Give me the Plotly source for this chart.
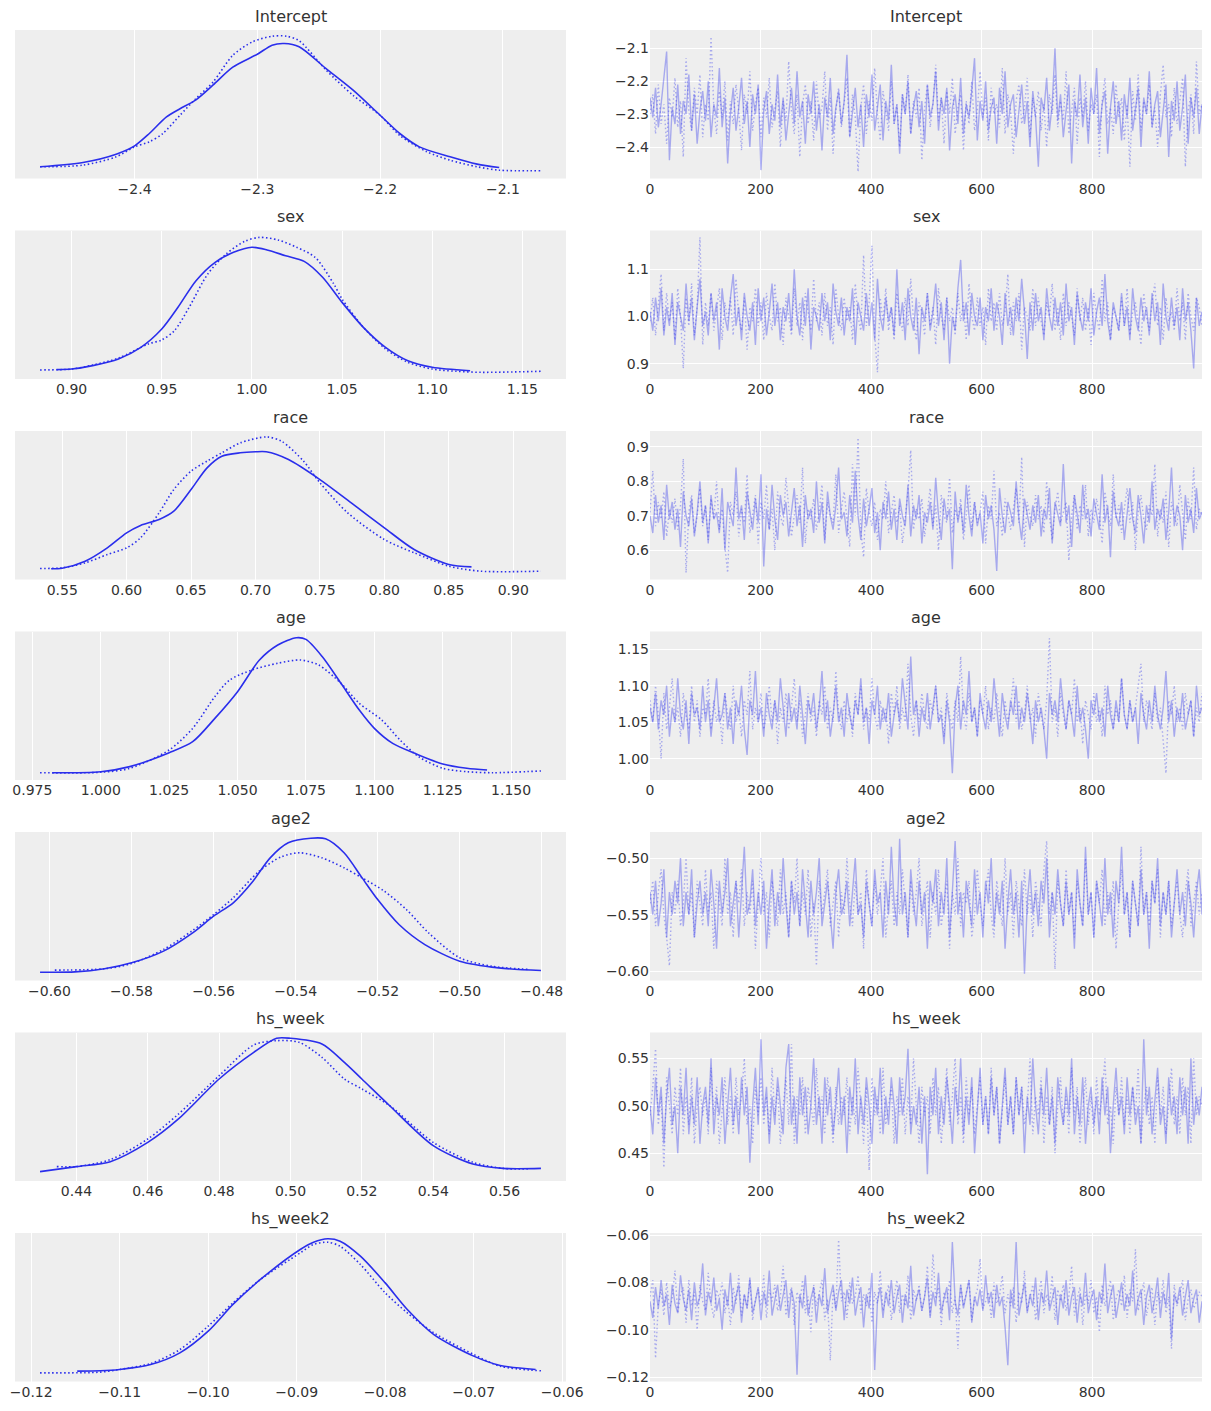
import numpy as np
import plotly.graph_objects as go
from plotly.subplots import make_subplots

VAR_NAMES = ["Intercept", "sex", "race", "age", "age2", "hs_week", "hs_week2"]
N_DRAWS = 1000
TRACE_X_TICK_STEP = 200

# ---------------- KDE curves (left column): x values and relative density ----------------
INTERCEPT_KDE0_X = [-2.477, -2.442, -2.415, -2.400, -2.388, -2.374, -2.363, -2.350, -2.336, -2.320, -2.300,
                    -2.288, -2.278, -2.266, -2.244, -2.222, -2.200, -2.184, -2.168, -2.143, -2.121, -2.103]
INTERCEPT_KDE0_Y = [0.079, 0.108, 0.164, 0.22, 0.303, 0.415, 0.47, 0.53, 0.63, 0.75, 0.837,
                    0.898, 0.909, 0.887, 0.74, 0.595, 0.426, 0.303, 0.213, 0.146, 0.097, 0.074]
INTERCEPT_KDE1_X = [-2.477, -2.442, -2.415, -2.400, -2.388, -2.377, -2.363, -2.350, -2.336, -2.320, -2.304, -2.288,
                    -2.276, -2.266, -2.244, -2.222, -2.200, -2.184, -2.162, -2.143, -2.121, -2.103, -2.069]
INTERCEPT_KDE1_Y = [0.079, 0.09, 0.146, 0.213, 0.247, 0.303, 0.426, 0.539, 0.65, 0.83, 0.92, 0.958,
                    0.958, 0.928, 0.73, 0.56, 0.426, 0.29, 0.18, 0.123, 0.079, 0.056, 0.052]

SEX_KDE0_X = [0.8916, 0.90, 0.9117, 0.926, 0.9384, 0.95, 0.959, 0.969, 0.9796, 0.9898, 1.00,
              1.0084, 1.0187, 1.029, 1.0392, 1.05, 1.0618, 1.0741, 1.0865, 1.10, 1.121]
SEX_KDE0_Y = [0.063, 0.067, 0.09, 0.135, 0.213, 0.337, 0.483, 0.662, 0.786, 0.853, 0.887,
              0.869, 0.83, 0.792, 0.685, 0.516, 0.348, 0.213, 0.123, 0.079, 0.056]
SEX_KDE1_X = [0.8825, 0.90, 0.9117, 0.926, 0.9426, 0.95, 0.957, 0.9652, 0.9755, 0.9857, 0.996, 1.0042,
              1.0145, 1.0248, 1.0351, 1.0454, 1.05, 1.0618, 1.0741, 1.0865, 1.10, 1.1132, 1.1276, 1.1603]
SEX_KDE1_Y = [0.061, 0.067, 0.094, 0.141, 0.236, 0.263, 0.325, 0.483, 0.707, 0.842, 0.927, 0.954,
              0.936, 0.887, 0.819, 0.64, 0.539, 0.348, 0.202, 0.112, 0.067, 0.052, 0.045, 0.052]

RACE_KDE0_X = [0.5414, 0.55, 0.5678, 0.585, 0.60, 0.6108, 0.6252, 0.6366, 0.65, 0.6624, 0.6739,
               0.6882, 0.70, 0.7083, 0.7256, 0.75, 0.7743, 0.80, 0.8231, 0.85, 0.8676]
RACE_KDE0_Y = [0.072, 0.076, 0.123, 0.213, 0.314, 0.364, 0.404, 0.46, 0.606, 0.752, 0.83,
               0.853, 0.86, 0.86, 0.808, 0.673, 0.516, 0.348, 0.202, 0.101, 0.085]
RACE_KDE1_X = [0.5328, 0.55, 0.5678, 0.585, 0.60, 0.6108, 0.6252, 0.6366, 0.65, 0.6624, 0.6739,
               0.6882, 0.7088, 0.7204, 0.7373, 0.75, 0.7715, 0.80, 0.8231, 0.85, 0.8747, 0.9215]
RACE_KDE1_Y = [0.074, 0.079, 0.112, 0.168, 0.213, 0.281, 0.449, 0.606, 0.73, 0.797, 0.853,
               0.92, 0.96, 0.93, 0.797, 0.651, 0.449, 0.269, 0.18, 0.09, 0.056, 0.056]

AGE_KDE0_X = [0.9824, 1.0, 1.0106, 1.025, 1.0336, 1.0417, 1.05, 1.058, 1.0647, 1.0715,
              1.075, 1.081, 1.0878, 1.0945, 1.10, 1.1067, 1.1148, 1.125, 1.1338, 1.1412]
AGE_KDE0_Y = [0.049, 0.056, 0.09, 0.184, 0.258, 0.415, 0.595, 0.808, 0.909, 0.958,
              0.947, 0.83, 0.651, 0.471, 0.348, 0.247, 0.18, 0.108, 0.079, 0.067]
AGE_KDE1_X = [0.9778, 1.0, 1.0106, 1.025, 1.0336, 1.0417, 1.0471, 1.0553, 1.0647, 1.0729,
              1.0796, 1.0878, 1.0945, 1.1027, 1.1094, 1.1162, 1.125, 1.1338, 1.1433, 1.1609]
AGE_KDE1_Y = [0.049, 0.052, 0.079, 0.202, 0.348, 0.561, 0.673, 0.741, 0.786, 0.808,
              0.775, 0.651, 0.516, 0.404, 0.269, 0.157, 0.079, 0.056, 0.049, 0.061]

AGE2_KDE0_X = [-0.6023, -0.5938, -0.5866, -0.58, -0.5722, -0.5651, -0.56, -0.5552, -0.5507, -0.5462, -0.5418,
               -0.5363, -0.5327, -0.5282, -0.5238, -0.52, -0.5148, -0.5085, -0.50, -0.4905, -0.4802]
AGE2_KDE0_Y = [0.056, 0.058, 0.079, 0.119, 0.198, 0.321, 0.433, 0.523, 0.658, 0.826, 0.927,
               0.958, 0.954, 0.86, 0.691, 0.545, 0.377, 0.242, 0.13, 0.085, 0.067]
AGE2_KDE1_X = [-0.5987, -0.5866, -0.58, -0.5722, -0.5651, -0.56, -0.5552, -0.5489, -0.5435, -0.539,
               -0.5336, -0.5282, -0.5238, -0.5184, -0.513, -0.5076, -0.50, -0.4923, -0.4829]
AGE2_KDE1_Y = [0.07, 0.079, 0.114, 0.209, 0.337, 0.444, 0.557, 0.736, 0.833, 0.86,
               0.826, 0.759, 0.691, 0.602, 0.478, 0.321, 0.153, 0.097, 0.074]

HSW_KDE0_X = [0.4298, 0.44, 0.4495, 0.46, 0.4686, 0.48, 0.4897, 0.4961, 0.50, 0.5088,
              0.5151, 0.52, 0.5278, 0.54, 0.5511, 0.5596, 0.5702]
HSW_KDE0_Y = [0.063, 0.097, 0.13, 0.26, 0.418, 0.687, 0.866, 0.961, 0.961, 0.923,
              0.799, 0.687, 0.507, 0.238, 0.114, 0.085, 0.085]
HSW_KDE1_X = [0.4345, 0.44, 0.4495, 0.46, 0.4686, 0.48, 0.4897, 0.4961, 0.5024, 0.5088,
              0.5151, 0.52, 0.5278, 0.54, 0.5511, 0.5596, 0.5665]
HSW_KDE1_Y = [0.097, 0.097, 0.144, 0.283, 0.451, 0.709, 0.916, 0.945, 0.934, 0.833,
              0.687, 0.62, 0.507, 0.26, 0.126, 0.085, 0.081]

HSW2_KDE0_X = [-0.1148, -0.1122, -0.11, -0.1065, -0.1032, -0.10, -0.0972, -0.0941, -0.0896, -0.0881,
               -0.0865, -0.0851, -0.0828, -0.08, -0.0775, -0.0745, -0.07, -0.067, -0.063]
HSW2_KDE0_Y = [0.07, 0.072, 0.081, 0.114, 0.193, 0.339, 0.519, 0.687, 0.889, 0.938,
               0.961, 0.945, 0.844, 0.664, 0.485, 0.316, 0.171, 0.108, 0.081]
HSW2_KDE1_X = [-0.119, -0.1122, -0.11, -0.1065, -0.1032, -0.10, -0.0972, -0.0941, -0.0896, -0.0881,
               -0.0865, -0.0851, -0.0828, -0.08, -0.0775, -0.0745, -0.07, -0.067, -0.0624]
HSW2_KDE1_Y = [0.058, 0.063, 0.081, 0.121, 0.215, 0.373, 0.53, 0.687, 0.866, 0.923,
               0.938, 0.911, 0.788, 0.597, 0.462, 0.328, 0.182, 0.103, 0.072]

# ---------------- sampled traces (right column): chain 0 (solid), chain 1 (dotted) ----------------
INTERCEPT_TRACE0 = [
    -2.25, -2.31, -2.22, -2.34, -2.27, -2.19, -2.11, -2.44, -2.28, -2.33,
    -2.21, -2.36, -2.26, -2.30, -2.18, -2.35, -2.24, -2.39, -2.29, -2.23,
    -2.32, -2.20, -2.37, -2.27, -2.31, -2.16, -2.34, -2.25, -2.45, -2.30,
    -2.22, -2.35, -2.28, -2.19, -2.33, -2.26, -2.40, -2.24, -2.30, -2.21,
    -2.47, -2.29, -2.23, -2.36, -2.27, -2.32, -2.18, -2.34, -2.25, -2.38,
    -2.29, -2.22, -2.33, -2.17, -2.31, -2.26, -2.39, -2.24, -2.30, -2.20,
    -2.35, -2.27, -2.41, -2.25, -2.31, -2.19, -2.36, -2.28, -2.23, -2.33,
    -2.26, -2.12, -2.37, -2.29, -2.22, -2.34, -2.27, -2.40, -2.24, -2.31,
    -2.18, -2.35, -2.28, -2.21, -2.38, -2.26, -2.32, -2.15, -2.33, -2.27,
    -2.42, -2.24, -2.30, -2.20, -2.36, -2.28, -2.23, -2.34, -2.26, -2.39,
    -2.21, -2.31, -2.27, -2.17, -2.35, -2.25, -2.30, -2.22, -2.41, -2.28,
    -2.24, -2.33, -2.19, -2.36, -2.27, -2.31, -2.23, -2.13, -2.38, -2.26,
    -2.32, -2.20, -2.35, -2.28, -2.25, -2.39, -2.22, -2.30, -2.17, -2.34,
    -2.27, -2.24, -2.37, -2.29, -2.21, -2.33, -2.26, -2.40, -2.23, -2.31,
    -2.46, -2.25, -2.29, -2.19, -2.35, -2.27, -2.10, -2.32, -2.24, -2.37,
    -2.28, -2.21, -2.45, -2.26, -2.31, -2.18, -2.34, -2.25, -2.39, -2.22,
    -2.30, -2.16, -2.36, -2.27, -2.23, -2.42, -2.28, -2.20, -2.33, -2.26,
    -2.38, -2.24, -2.31, -2.19, -2.35, -2.28, -2.22, -2.40, -2.25, -2.30,
    -2.17, -2.34, -2.27, -2.23, -2.37, -2.29, -2.21, -2.43, -2.26, -2.32,
    -2.20, -2.35, -2.28, -2.18, -2.39, -2.25, -2.31, -2.22, -2.36, -2.27]
INTERCEPT_TRACE1 = [
    -2.30, -2.24, -2.36, -2.21, -2.33, -2.27, -2.39, -2.25, -2.31, -2.19,
    -2.34, -2.26, -2.43, -2.13, -2.29, -2.35, -2.22, -2.30, -2.18, -2.37,
    -2.27, -2.32, -2.065, -2.28, -2.36, -2.23, -2.31, -2.20, -2.38, -2.26,
    -2.33, -2.21, -2.29, -2.41, -2.24, -2.30, -2.17, -2.35, -2.27, -2.22,
    -2.37, -2.25, -2.31, -2.19, -2.34, -2.28, -2.23, -2.40, -2.26, -2.32,
    -2.14, -2.29, -2.36, -2.24, -2.43, -2.27, -2.21, -2.33, -2.26, -2.38,
    -2.20, -2.31, -2.28, -2.17, -2.35, -2.25, -2.42, -2.29, -2.22, -2.34,
    -2.27, -2.19, -2.37, -2.24, -2.31, -2.475, -2.28, -2.21, -2.36, -2.26,
    -2.32, -2.16, -2.30, -2.38, -2.23, -2.29, -2.35, -2.20, -2.33, -2.27,
    -2.40, -2.24, -2.30, -2.18, -2.36, -2.26, -2.31, -2.22, -2.44, -2.28,
    -2.21, -2.34, -2.27, -2.15, -2.32, -2.25, -2.39, -2.23, -2.30, -2.19,
    -2.36, -2.28, -2.24, -2.41, -2.26, -2.33, -2.20, -2.35, -2.29, -2.17,
    -2.31, -2.25, -2.38, -2.22, -2.30, -2.27, -2.34, -2.16, -2.36, -2.24,
    -2.29, -2.42, -2.26, -2.21, -2.33, -2.28, -2.19, -2.37, -2.25, -2.31,
    -2.23, -2.35, -2.27, -2.40, -2.24, -2.30, -2.18, -2.34, -2.26, -2.32,
    -2.17, -2.36, -2.28, -2.22, -2.39, -2.25, -2.31, -2.20, -2.35, -2.27,
    -2.30, -2.24, -2.43, -2.26, -2.19, -2.33, -2.28, -2.36, -2.21, -2.31,
    -2.25, -2.38, -2.27, -2.46, -2.23, -2.32, -2.18, -2.35, -2.26, -2.30,
    -2.21, -2.34, -2.28, -2.40, -2.24, -2.15, -2.31, -2.27, -2.37, -2.22,
    -2.33, -2.26, -2.19, -2.46, -2.29, -2.24, -2.36, -2.14, -2.30, -2.27]

SEX_TRACE0 = [
    1.01, 0.97, 1.04, 0.99, 1.06, 0.96, 1.02, 0.98, 1.05, 0.94,
    1.03, 1.00, 0.97, 1.07, 0.99, 1.04, 0.95, 1.02, 1.08, 0.98,
    1.01, 0.96, 1.05, 0.99, 1.03, 0.93, 1.06, 1.00, 0.97, 1.04,
    1.09, 0.98, 1.02, 0.95, 1.05, 1.00, 0.97, 1.03, 0.94, 1.06,
    0.99, 1.04, 0.96, 1.01, 1.07, 0.98, 1.03, 0.95, 1.02, 0.99,
    1.05, 0.97, 1.10, 1.00, 0.96, 1.04, 0.98, 1.06, 0.93, 1.02,
    1.00, 0.97, 1.05, 0.99, 1.03, 0.95, 1.07, 1.01, 0.98, 1.04,
    0.96, 1.02, 0.99, 1.06, 0.94, 1.03, 1.00, 0.97, 1.05, 0.98,
    1.03, 0.95, 1.08, 1.00, 0.97, 1.04, 0.99, 1.02, 0.96, 1.10,
    0.98, 1.03, 0.95, 1.06, 1.00, 0.97, 1.04, 0.92, 1.02, 0.99,
    1.05, 0.97, 1.01, 1.07, 0.98, 1.03, 0.95, 1.04, 0.90, 1.00,
    0.97, 1.06, 1.12, 0.99, 1.03, 0.96, 1.05, 1.00, 0.98, 1.04,
    0.95, 1.02, 0.99, 1.06, 0.97, 1.03, 1.00, 0.94, 1.05, 0.98,
    1.02, 0.96, 1.04, 0.99, 1.08, 1.01, 0.91, 1.03, 0.97, 1.05,
    0.99, 1.02, 0.95, 1.06, 1.00, 0.97, 1.04, 0.98, 1.03, 0.96,
    1.07, 0.99, 1.02, 0.94, 1.05, 1.00, 0.97, 1.03, 0.99, 1.06,
    0.96, 1.01, 1.04, 0.98, 1.09, 0.99, 0.95, 1.03, 1.00, 0.97,
    1.05, 0.98, 1.02, 0.95, 1.06, 1.00, 0.97, 1.04, 0.99, 1.02,
    0.96, 1.05, 0.99, 1.03, 0.94, 1.07, 1.00, 0.97, 1.04, 0.98,
    1.02, 0.95, 1.06, 0.99, 1.03, 0.97, 0.89, 1.04, 0.98, 1.01]
SEX_TRACE1 = [
    0.99, 1.04, 0.96, 1.02, 1.09, 0.97, 1.05, 0.99, 1.03, 0.95,
    1.06, 1.00, 0.89, 1.04, 0.98, 1.07, 0.96, 1.02, 1.168, 0.94,
    1.03, 0.98, 1.05, 0.97, 1.01, 1.06, 0.95, 1.03, 0.99, 1.04,
    0.96, 1.08, 1.00, 0.97, 1.04, 0.93, 1.02, 0.99, 1.06, 0.98,
    1.03, 0.95, 1.05, 1.00, 0.97, 1.07, 0.99, 1.02, 0.94, 1.04,
    1.00, 0.96, 1.06, 0.98, 1.03, 0.95, 1.05, 1.01, 0.97, 1.08,
    0.99, 1.03, 0.96, 1.05, 0.98, 1.02, 0.94, 1.06, 1.00, 0.97,
    1.04, 0.99, 1.02, 0.95, 1.07, 1.00, 0.97, 1.13, 0.98, 1.03,
    1.15, 0.96, 0.882, 1.04, 0.99, 1.06, 0.97, 1.02, 0.95, 1.05,
    1.00, 0.97, 1.04, 0.98, 1.08, 0.99, 0.95, 1.03, 1.01, 0.96,
    1.05, 0.98, 1.02, 0.94, 1.06, 1.00, 0.97, 1.04, 0.99, 1.02,
    0.96, 1.05, 0.99, 1.03, 0.95, 1.07, 1.00, 0.97, 1.04, 0.98,
    1.02, 0.94, 1.06, 0.99, 1.03, 0.97, 1.05, 0.98, 1.01, 1.09,
    0.96, 1.03, 0.99, 1.05, 0.93, 1.02, 1.00, 0.97, 1.06, 0.98,
    1.04, 0.99, 0.96, 1.03, 1.00, 1.07, 0.97, 1.02, 0.95, 1.05,
    0.98, 1.03, 1.00, 0.96, 1.06, 0.99, 1.04, 0.97, 1.02, 0.94,
    1.05, 1.00, 0.97, 1.08, 0.99, 1.03, 0.95, 1.02, 1.00, 0.97,
    1.04, 0.98, 1.06, 0.96, 1.01, 1.03, 0.99, 0.94, 1.05, 1.00,
    0.97, 1.03, 1.07, 0.98, 1.02, 0.95, 1.04, 0.99, 1.01, 0.97,
    1.06, 0.99, 1.03, 0.95, 1.05, 1.00, 0.97, 1.04, 1.02, 0.98]

RACE_TRACE0 = [
    0.70, 0.65, 0.76, 0.68, 0.73, 0.63, 0.79, 0.69, 0.74, 0.66,
    0.72, 0.61, 0.77, 0.70, 0.67, 0.75, 0.64, 0.71, 0.80, 0.68,
    0.73, 0.62, 0.76, 0.69, 0.71, 0.65, 0.78, 0.60, 0.74, 0.70,
    0.67, 0.84, 0.69, 0.73, 0.63, 0.77, 0.71, 0.66, 0.75, 0.68,
    0.82, 0.553, 0.72, 0.66, 0.79, 0.69, 0.63, 0.76, 0.70, 0.74,
    0.64, 0.71, 0.78, 0.67, 0.73, 0.61, 0.76, 0.69, 0.72, 0.65,
    0.80, 0.68, 0.74, 0.62, 0.77, 0.70, 0.66, 0.73, 0.84, 0.69,
    0.71, 0.64, 0.76, 0.68, 0.83, 0.70, 0.63, 0.75, 0.67, 0.72,
    0.78, 0.65, 0.71, 0.60, 0.74, 0.69, 0.77, 0.66, 0.72, 0.63,
    0.75, 0.70, 0.67, 0.79, 0.64, 0.73, 0.69, 0.76, 0.62, 0.71,
    0.68, 0.74, 0.66, 0.81, 0.70, 0.63, 0.75, 0.69, 0.72, 0.545,
    0.77, 0.68, 0.73, 0.65, 0.79, 0.70, 0.64, 0.74, 0.67, 0.71,
    0.62, 0.76, 0.69, 0.73, 0.66, 0.54, 0.78, 0.70, 0.65, 0.74,
    0.71, 0.67, 0.80, 0.69, 0.63, 0.75, 0.70, 0.66, 0.73, 0.68,
    0.76, 0.64, 0.72, 0.69, 0.78, 0.62, 0.74, 0.70, 0.67, 0.85,
    0.68, 0.73, 0.61, 0.76, 0.70, 0.65, 0.79, 0.69, 0.72, 0.64,
    0.75, 0.71, 0.66, 0.82, 0.68, 0.73, 0.58, 0.77, 0.70, 0.67,
    0.74, 0.63, 0.71, 0.78, 0.69, 0.65, 0.76, 0.70, 0.62, 0.73,
    0.68, 0.80, 0.66, 0.72, 0.69, 0.75, 0.63, 0.71, 0.84, 0.67,
    0.73, 0.70, 0.60, 0.76, 0.68, 0.72, 0.65, 0.78, 0.69, 0.71]
RACE_TRACE1 = [
    0.71, 0.83, 0.67, 0.74, 0.69, 0.77, 0.64, 0.72, 0.68, 0.75,
    0.66, 0.73, 0.865, 0.535, 0.71, 0.76, 0.65, 0.70, 0.78, 0.67,
    0.73, 0.63, 0.75, 0.69, 0.80, 0.66, 0.72, 0.61, 0.535, 0.74,
    0.70, 0.77, 0.64, 0.72, 0.68, 0.82, 0.65, 0.71, 0.76, 0.62,
    0.74, 0.69, 0.79, 0.66, 0.72, 0.60, 0.77, 0.70, 0.67, 0.81,
    0.73, 0.64, 0.70, 0.76, 0.68, 0.84, 0.62, 0.72, 0.69, 0.75,
    0.66, 0.71, 0.79, 0.63, 0.74, 0.70, 0.68, 0.82, 0.65, 0.72,
    0.77, 0.69, 0.61, 0.85, 0.70, 0.926, 0.66, 0.58, 0.78, 0.71,
    0.67, 0.74, 0.63, 0.72, 0.69, 0.80, 0.65, 0.71, 0.76, 0.68,
    0.73, 0.62, 0.70, 0.77, 0.89, 0.66, 0.72, 0.69, 0.75, 0.64,
    0.71, 0.78, 0.67, 0.73, 0.60, 0.76, 0.70, 0.68, 0.81, 0.65,
    0.72, 0.69, 0.75, 0.63, 0.70, 0.79, 0.66, 0.74, 0.68, 0.71,
    0.77, 0.62, 0.73, 0.69, 0.83, 0.67, 0.71, 0.64, 0.75, 0.70,
    0.66, 0.72, 0.78, 0.68, 0.87, 0.61, 0.74, 0.70, 0.67, 0.76,
    0.69, 0.73, 0.65, 0.80, 0.70, 0.63, 0.72, 0.77, 0.68, 0.71,
    0.74, 0.57, 0.70, 0.76, 0.66, 0.73, 0.69, 0.79, 0.64, 0.72,
    0.68, 0.75, 0.70, 0.62, 0.77, 0.71, 0.67, 0.82, 0.69, 0.73,
    0.65, 0.72, 0.78, 0.68, 0.74, 0.60, 0.71, 0.76, 0.69, 0.66,
    0.73, 0.70, 0.85, 0.64, 0.72, 0.68, 0.77, 0.61, 0.74, 0.70,
    0.67, 0.79, 0.71, 0.63, 0.75, 0.69, 0.84, 0.66, 0.72, 0.70]

AGE_TRACE0 = [
    1.07, 1.05, 1.09, 1.04, 1.08, 1.06, 1.10, 1.03, 1.07, 1.05,
    1.11, 1.06, 1.04, 1.08, 1.02, 1.09, 1.06, 1.07, 1.04, 1.10,
    1.05, 1.08, 1.03, 1.07, 1.11, 1.05, 1.06, 1.09, 1.04, 1.07,
    1.02, 1.08, 1.06, 1.10, 1.04, 1.005, 1.08, 1.06, 1.12, 1.05,
    1.07, 1.03, 1.09, 1.06, 1.04, 1.08, 1.05, 1.11, 1.07, 1.03,
    1.09, 1.05, 1.07, 1.04, 1.10, 1.06, 1.02, 1.08, 1.06, 1.09,
    1.04, 1.07, 1.12, 1.05, 1.08, 1.03, 1.06, 1.10, 1.05, 1.07,
    1.03, 1.09, 1.06, 1.04, 1.08, 1.06, 1.11, 1.05, 1.07, 1.02,
    1.08, 1.06, 1.10, 1.04, 1.07, 1.05, 1.09, 1.03, 1.06, 1.08,
    1.05, 1.11, 1.07, 1.04, 1.14, 1.06, 1.08, 1.03, 1.07, 1.05,
    1.09, 1.04, 1.07, 1.10, 1.05, 1.06, 1.02, 1.08, 1.05, 0.98,
    1.07, 1.10, 1.04, 1.08, 1.06, 1.12, 1.05, 1.07, 1.03, 1.09,
    1.06, 1.04, 1.08, 1.05, 1.11, 1.07, 1.03, 1.09, 1.06, 1.04,
    1.08, 1.06, 1.10, 1.04, 1.07, 1.05, 1.09, 1.06, 1.02, 1.08,
    1.05, 1.07, 1.04, 1.00, 1.09, 1.06, 1.08, 1.05, 1.11, 1.07,
    1.04, 1.08, 1.06, 1.03, 1.10, 1.05, 1.07, 1.04, 1.00, 1.08,
    1.06, 1.09, 1.05, 1.07, 1.03, 1.10, 1.06, 1.04, 1.08, 1.05,
    1.11, 1.06, 1.04, 1.08, 1.05, 1.07, 1.02, 1.09, 1.06, 1.04,
    1.08, 1.05, 1.10, 1.06, 1.04, 1.07, 1.12, 1.05, 1.08, 1.03,
    1.07, 1.05, 1.09, 1.04, 1.06, 1.08, 1.03, 1.10, 1.06, 1.07]
AGE_TRACE1 = [
    1.08, 1.05, 1.10, 1.06, 1.00, 1.09, 1.04, 1.07, 1.11, 1.05,
    1.07, 1.03, 1.09, 1.06, 1.04, 1.10, 1.05, 1.08, 1.03, 1.07,
    1.06, 1.11, 1.04, 1.08, 1.05, 1.07, 1.02, 1.09, 1.06, 1.04,
    1.10, 1.05, 1.07, 1.03, 1.08, 1.06, 1.12, 1.04, 1.07, 1.05,
    1.09, 1.04, 1.06, 1.10, 1.05, 1.08, 1.02, 1.07, 1.05, 1.09,
    1.04, 1.07, 1.11, 1.05, 1.08, 1.03, 1.06, 1.09, 1.05, 1.07,
    1.03, 1.08, 1.06, 1.10, 1.04, 1.07, 1.05, 1.12, 1.06, 1.04,
    1.08, 1.05, 1.07, 1.03, 1.09, 1.06, 1.10, 1.04, 1.07, 1.05,
    1.11, 1.06, 1.04, 1.08, 1.05, 1.07, 1.02, 1.09, 1.06, 1.10,
    1.04, 1.07, 1.05, 1.13, 1.06, 1.03, 1.08, 1.05, 1.09, 1.06,
    1.04, 1.08, 1.06, 1.10, 1.05, 1.07, 1.03, 1.09, 1.06, 1.04,
    1.08, 1.05, 1.14, 1.06, 1.04, 1.09, 1.05, 1.07, 1.03, 1.08,
    1.06, 1.10, 1.04, 1.07, 1.05, 1.09, 1.06, 1.03, 1.08, 1.05,
    1.07, 1.11, 1.05, 1.08, 1.04, 1.06, 1.10, 1.05, 1.07, 1.03,
    1.09, 1.06, 1.04, 1.08, 1.165, 1.05, 1.07, 1.03, 1.09, 1.06,
    1.04, 1.08, 1.06, 1.11, 1.05, 1.07, 1.02, 1.08, 1.06, 1.04,
    1.09, 1.05, 1.07, 1.03, 1.10, 1.06, 1.08, 1.04, 1.07, 1.05,
    1.11, 1.06, 1.04, 1.08, 1.05, 1.07, 1.10, 1.13, 1.05, 1.08,
    1.06, 1.04, 1.09, 1.05, 1.07, 1.03, 0.98, 1.08, 1.06, 1.10,
    1.05, 1.07, 1.04, 1.09, 1.06, 1.08, 1.03, 1.07, 1.05, 1.09]

AGE2_TRACE0 = [
    -0.53, -0.55, -0.52, -0.56, -0.54, -0.51, -0.57, -0.53, -0.55, -0.52,
    -0.54, -0.50, -0.56, -0.53, -0.55, -0.51, -0.57, -0.54, -0.52, -0.55,
    -0.53, -0.56, -0.51, -0.54, -0.58, -0.52, -0.55, -0.53, -0.50, -0.56,
    -0.54, -0.52, -0.57, -0.53, -0.49, -0.55, -0.54, -0.51, -0.56, -0.53,
    -0.55, -0.52, -0.58, -0.54, -0.51, -0.56, -0.53, -0.55, -0.50, -0.54,
    -0.57, -0.52, -0.55, -0.53, -0.56, -0.51, -0.54, -0.57, -0.52, -0.55,
    -0.53, -0.50, -0.56, -0.54, -0.52, -0.55, -0.58, -0.53, -0.51, -0.55,
    -0.54, -0.52, -0.56, -0.53, -0.50, -0.55, -0.54, -0.57, -0.52, -0.54,
    -0.56, -0.51, -0.54, -0.53, -0.57, -0.52, -0.55, -0.49, -0.54, -0.56,
    -0.483, -0.55, -0.53, -0.57, -0.51, -0.54, -0.56, -0.52, -0.55, -0.53,
    -0.58, -0.52, -0.54, -0.51, -0.56, -0.53, -0.55, -0.50, -0.57, -0.53,
    -0.485, -0.55, -0.53, -0.57, -0.52, -0.54, -0.56, -0.51, -0.55, -0.53,
    -0.57, -0.52, -0.54, -0.50, -0.56, -0.53, -0.55, -0.52, -0.58, -0.54,
    -0.51, -0.55, -0.53, -0.57, -0.52, -0.602, -0.54, -0.51, -0.55, -0.53,
    -0.56, -0.52, -0.54, -0.50, -0.57, -0.53, -0.55, -0.51, -0.54, -0.56,
    -0.52, -0.55, -0.53, -0.58, -0.51, -0.54, -0.56, -0.49, -0.55, -0.53,
    -0.57, -0.52, -0.54, -0.56, -0.50, -0.55, -0.53, -0.57, -0.52, -0.54,
    -0.49, -0.55, -0.53, -0.57, -0.52, -0.54, -0.56, -0.51, -0.55, -0.53,
    -0.58, -0.52, -0.54, -0.50, -0.56, -0.53, -0.55, -0.52, -0.57, -0.54,
    -0.51, -0.55, -0.53, -0.56, -0.52, -0.54, -0.57, -0.53, -0.51, -0.55]
AGE2_TRACE1 = [
    -0.54, -0.52, -0.56, -0.53, -0.51, -0.55, -0.57, -0.595, -0.53, -0.55,
    -0.52, -0.56, -0.54, -0.50, -0.55, -0.53, -0.57, -0.52, -0.54, -0.56,
    -0.51, -0.55, -0.53, -0.58, -0.52, -0.54, -0.56, -0.50, -0.55, -0.53,
    -0.57, -0.52, -0.54, -0.51, -0.56, -0.53, -0.55, -0.52, -0.58, -0.54,
    -0.50, -0.55, -0.53, -0.57, -0.52, -0.54, -0.56, -0.51, -0.55, -0.53,
    -0.57, -0.52, -0.54, -0.50, -0.56, -0.53, -0.55, -0.51, -0.57, -0.54,
    -0.595, -0.52, -0.55, -0.53, -0.51, -0.56, -0.54, -0.52, -0.57, -0.53,
    -0.55, -0.50, -0.54, -0.56, -0.52, -0.55, -0.53, -0.58, -0.51, -0.54,
    -0.56, -0.52, -0.55, -0.53, -0.50, -0.57, -0.54, -0.52, -0.56, -0.53,
    -0.55, -0.51, -0.54, -0.57, -0.52, -0.55, -0.53, -0.50, -0.56, -0.54,
    -0.52, -0.57, -0.53, -0.55, -0.51, -0.56, -0.54, -0.52, -0.58, -0.53,
    -0.55, -0.50, -0.56, -0.53, -0.54, -0.52, -0.57, -0.55, -0.51, -0.54,
    -0.56, -0.53, -0.51, -0.55, -0.57, -0.52, -0.54, -0.56, -0.50, -0.55,
    -0.53, -0.57, -0.52, -0.54, -0.56, -0.51, -0.55, -0.53, -0.57, -0.52,
    -0.54, -0.56, -0.51, -0.485, -0.55, -0.53, -0.598, -0.52, -0.54, -0.56,
    -0.51, -0.55, -0.53, -0.57, -0.52, -0.54, -0.56, -0.50, -0.55, -0.53,
    -0.57, -0.52, -0.54, -0.51, -0.56, -0.53, -0.55, -0.52, -0.58, -0.54,
    -0.51, -0.55, -0.53, -0.57, -0.52, -0.54, -0.56, -0.49, -0.55, -0.53,
    -0.56, -0.52, -0.54, -0.51, -0.57, -0.53, -0.55, -0.52, -0.56, -0.54,
    -0.52, -0.55, -0.57, -0.53, -0.51, -0.56, -0.54, -0.52, -0.55, -0.53]

HSW_TRACE0 = [
    0.50, 0.47, 0.53, 0.49, 0.52, 0.46, 0.51, 0.54, 0.48, 0.50,
    0.45, 0.52, 0.49, 0.54, 0.47, 0.51, 0.48, 0.53, 0.46, 0.50,
    0.52, 0.48, 0.55, 0.47, 0.51, 0.49, 0.53, 0.46, 0.50, 0.54,
    0.48, 0.51, 0.47, 0.53, 0.49, 0.52, 0.44, 0.50, 0.54, 0.48,
    0.57, 0.49, 0.52, 0.46, 0.51, 0.48, 0.53, 0.50, 0.47, 0.54,
    0.565, 0.48, 0.51, 0.46, 0.53, 0.49, 0.52, 0.47, 0.50, 0.55,
    0.48, 0.51, 0.46, 0.53, 0.49, 0.52, 0.47, 0.50, 0.54, 0.48,
    0.51, 0.45, 0.52, 0.49, 0.55, 0.47, 0.51, 0.48, 0.53, 0.50,
    0.46, 0.52, 0.49, 0.54, 0.47, 0.51, 0.48, 0.53, 0.50, 0.46,
    0.53, 0.49, 0.51, 0.56, 0.47, 0.50, 0.48, 0.52, 0.46, 0.51,
    0.428, 0.52, 0.49, 0.54, 0.47, 0.51, 0.48, 0.53, 0.50, 0.46,
    0.52, 0.49, 0.55, 0.47, 0.51, 0.48, 0.53, 0.45, 0.50, 0.54,
    0.48, 0.51, 0.47, 0.53, 0.49, 0.52, 0.46, 0.50, 0.54, 0.48,
    0.51, 0.47, 0.53, 0.49, 0.52, 0.45, 0.51, 0.48, 0.55, 0.50,
    0.47, 0.52, 0.49, 0.54, 0.48, 0.51, 0.46, 0.53, 0.50, 0.48,
    0.52, 0.49, 0.55, 0.47, 0.51, 0.48, 0.53, 0.46, 0.50, 0.52,
    0.48, 0.51, 0.47, 0.53, 0.49, 0.52, 0.45, 0.50, 0.54, 0.49,
    0.51, 0.47, 0.53, 0.49, 0.52, 0.48, 0.50, 0.46, 0.57, 0.49,
    0.52, 0.47, 0.51, 0.54, 0.48, 0.50, 0.46, 0.53, 0.49, 0.51,
    0.47, 0.53, 0.49, 0.52, 0.46, 0.55, 0.48, 0.51, 0.49, 0.52]
HSW_TRACE1 = [
    0.49, 0.52, 0.56, 0.48, 0.51, 0.435, 0.53, 0.50, 0.47, 0.52,
    0.49, 0.54, 0.47, 0.51, 0.48, 0.53, 0.46, 0.50, 0.52, 0.49,
    0.51, 0.47, 0.54, 0.49, 0.52, 0.46, 0.50, 0.53, 0.48, 0.51,
    0.47, 0.53, 0.49, 0.51, 0.55, 0.48, 0.50, 0.46, 0.52, 0.49,
    0.53, 0.48, 0.51, 0.47, 0.54, 0.49, 0.52, 0.46, 0.50, 0.53,
    0.48, 0.565, 0.46, 0.51, 0.49, 0.53, 0.47, 0.52, 0.50, 0.48,
    0.54, 0.49, 0.51, 0.47, 0.53, 0.50, 0.46, 0.52, 0.48, 0.51,
    0.49, 0.53, 0.47, 0.51, 0.48, 0.54, 0.50, 0.46, 0.52, 0.432,
    0.53, 0.49, 0.51, 0.47, 0.54, 0.48, 0.50, 0.52, 0.46, 0.51,
    0.49, 0.53, 0.47, 0.51, 0.48, 0.55, 0.50, 0.46, 0.52, 0.49,
    0.51, 0.47, 0.53, 0.49, 0.52, 0.46, 0.50, 0.54, 0.48, 0.51,
    0.55, 0.48, 0.51, 0.46, 0.53, 0.49, 0.52, 0.47, 0.50, 0.53,
    0.48, 0.51, 0.47, 0.54, 0.49, 0.52, 0.46, 0.50, 0.53, 0.48,
    0.51, 0.47, 0.53, 0.49, 0.52, 0.48, 0.50, 0.55, 0.47, 0.51,
    0.49, 0.53, 0.46, 0.51, 0.48, 0.52, 0.45, 0.50, 0.53, 0.48,
    0.51, 0.47, 0.54, 0.49, 0.52, 0.46, 0.50, 0.53, 0.48, 0.51,
    0.47, 0.53, 0.49, 0.51, 0.55, 0.48, 0.50, 0.46, 0.52, 0.49,
    0.53, 0.48, 0.51, 0.47, 0.52, 0.49, 0.54, 0.46, 0.50, 0.52,
    0.48, 0.51, 0.46, 0.53, 0.49, 0.52, 0.47, 0.50, 0.54, 0.48,
    0.51, 0.47, 0.53, 0.49, 0.52, 0.46, 0.55, 0.49, 0.51, 0.50]

HSW2_TRACE0 = [
    -0.088, -0.095, -0.082, -0.091, -0.079, -0.090, -0.085, -0.098, -0.081, -0.089,
    -0.093, -0.077, -0.087, -0.092, -0.083, -0.096, -0.080, -0.090, -0.086, -0.072,
    -0.094, -0.084, -0.089, -0.078, -0.092, -0.087, -0.100, -0.083, -0.090, -0.076,
    -0.093, -0.086, -0.081, -0.097, -0.085, -0.091, -0.078, -0.093, -0.088, -0.082,
    -0.096, -0.084, -0.090, -0.075, -0.094, -0.087, -0.081, -0.092, -0.086, -0.079,
    -0.095, -0.083, -0.089, -0.119, -0.085, -0.091, -0.077, -0.094, -0.087, -0.082,
    -0.097, -0.085, -0.090, -0.074, -0.093, -0.086, -0.081, -0.092, -0.084, -0.079,
    -0.096, -0.083, -0.089, -0.078, -0.094, -0.087, -0.082, -0.099, -0.085, -0.091,
    -0.076, -0.117, -0.088, -0.082, -0.095, -0.084, -0.090, -0.079, -0.093, -0.086,
    -0.081, -0.097, -0.085, -0.091, -0.073, -0.094, -0.087, -0.083, -0.092, -0.086,
    -0.078, -0.095, -0.084, -0.090, -0.076, -0.093, -0.087, -0.082, -0.096, -0.063,
    -0.088, -0.094, -0.081, -0.091, -0.085, -0.079, -0.097, -0.086, -0.090, -0.083,
    -0.092, -0.077, -0.089, -0.084, -0.095, -0.081, -0.090, -0.086, -0.099, -0.115,
    -0.083, -0.091, -0.063, -0.094, -0.087, -0.080, -0.093, -0.085, -0.090, -0.078,
    -0.096, -0.084, -0.089, -0.075, -0.092, -0.087, -0.082, -0.098, -0.085, -0.091,
    -0.079, -0.094, -0.086, -0.082, -0.097, -0.085, -0.090, -0.076, -0.093, -0.087,
    -0.083, -0.096, -0.084, -0.089, -0.072, -0.093, -0.086, -0.081, -0.095, -0.088,
    -0.080, -0.092, -0.085, -0.090, -0.075, -0.094, -0.087, -0.083, -0.098, -0.086,
    -0.081, -0.093, -0.087, -0.078, -0.095, -0.084, -0.090, -0.076, -0.104, -0.085,
    -0.089, -0.082, -0.094, -0.086, -0.079, -0.093, -0.087, -0.083, -0.097, -0.088]
HSW2_TRACE1 = [
    -0.086, -0.079, -0.112, -0.089, -0.083, -0.094, -0.080, -0.091, -0.087, -0.075,
    -0.093, -0.085, -0.082, -0.097, -0.079, -0.090, -0.084, -0.100, -0.081, -0.088,
    -0.092, -0.076, -0.089, -0.095, -0.083, -0.087, -0.080, -0.093, -0.086, -0.098,
    -0.082, -0.089, -0.077, -0.094, -0.085, -0.091, -0.079, -0.096, -0.087, -0.083,
    -0.090, -0.077, -0.095, -0.083, -0.088, -0.081, -0.092, -0.086, -0.073, -0.094,
    -0.087, -0.082, -0.098, -0.084, -0.089, -0.079, -0.093, -0.086, -0.101, -0.081,
    -0.090, -0.085, -0.079, -0.096, -0.087, -0.113, -0.083, -0.091, -0.062, -0.088,
    -0.084, -0.095, -0.080, -0.089, -0.086, -0.077, -0.093, -0.085, -0.090, -0.082,
    -0.097, -0.084, -0.089, -0.075, -0.092, -0.087, -0.081, -0.096, -0.086, -0.079,
    -0.093, -0.085, -0.090, -0.077, -0.096, -0.083, -0.088, -0.081, -0.092, -0.086,
    -0.073, -0.094, -0.068, -0.087, -0.082, -0.098, -0.084, -0.089, -0.079, -0.093,
    -0.086, -0.108, -0.081, -0.090, -0.085, -0.079, -0.096, -0.087, -0.083, -0.070,
    -0.091, -0.088, -0.084, -0.095, -0.080, -0.089, -0.086, -0.077, -0.093, -0.085,
    -0.090, -0.082, -0.097, -0.084, -0.089, -0.075, -0.092, -0.087, -0.081, -0.096,
    -0.086, -0.079, -0.093, -0.085, -0.090, -0.077, -0.096, -0.083, -0.088, -0.081,
    -0.092, -0.086, -0.073, -0.094, -0.087, -0.082, -0.098, -0.084, -0.089, -0.079,
    -0.093, -0.086, -0.101, -0.081, -0.090, -0.085, -0.079, -0.096, -0.087, -0.083,
    -0.090, -0.077, -0.095, -0.083, -0.088, -0.066, -0.092, -0.086, -0.080, -0.094,
    -0.087, -0.082, -0.098, -0.084, -0.089, -0.079, -0.093, -0.086, -0.108, -0.081,
    -0.090, -0.085, -0.079, -0.096, -0.087, -0.083, -0.091, -0.088, -0.084, -0.086]

# tick settings per variable
KDE_X_DTICK = [0.1, 0.05, 0.05, 0.025, 0.02, 0.02, 0.01]
KDE_X_FMT = [".1f", ".2f", ".2f", ".3f", ".2f", ".2f", ".2f"]
TRACE_Y_DTICK = [0.1, 0.1, 0.1, 0.05, 0.05, 0.05, 0.02]
TRACE_Y_FMT = [".1f", ".1f", ".1f", ".2f", ".2f", ".2f", ".2f"]

KDES = [
    (INTERCEPT_KDE0_X, INTERCEPT_KDE0_Y, INTERCEPT_KDE1_X, INTERCEPT_KDE1_Y),
    (SEX_KDE0_X, SEX_KDE0_Y, SEX_KDE1_X, SEX_KDE1_Y),
    (RACE_KDE0_X, RACE_KDE0_Y, RACE_KDE1_X, RACE_KDE1_Y),
    (AGE_KDE0_X, AGE_KDE0_Y, AGE_KDE1_X, AGE_KDE1_Y),
    (AGE2_KDE0_X, AGE2_KDE0_Y, AGE2_KDE1_X, AGE2_KDE1_Y),
    (HSW_KDE0_X, HSW_KDE0_Y, HSW_KDE1_X, HSW_KDE1_Y),
    (HSW2_KDE0_X, HSW2_KDE0_Y, HSW2_KDE1_X, HSW2_KDE1_Y),
]
TRACES = [
    (INTERCEPT_TRACE0, INTERCEPT_TRACE1),
    (SEX_TRACE0, SEX_TRACE1),
    (RACE_TRACE0, RACE_TRACE1),
    (AGE_TRACE0, AGE_TRACE1),
    (AGE2_TRACE0, AGE2_TRACE1),
    (HSW_TRACE0, HSW_TRACE1),
    (HSW2_TRACE0, HSW2_TRACE1),
]

# ---------------- styling / layout ----------------
W, H = 1211, 1411
BLUE = "#2a2eec"
BLUE_A = "rgba(42,46,236,0.36)"
DOT = "1.5px,2.5px"
FONT = "DejaVu Sans"
TXT = "#333333"
BG = "#eeeeee"
LEFT_PX = (15, 566)
RIGHT_PX = (650, 1202)
ROW_TOP0, ROW_STEP, PANEL_H = 30, 200.5, 148.5

fig = make_subplots(rows=len(VAR_NAMES), cols=2)
annotations = []

for i, name in enumerate(VAR_NAMES):
    r = i + 1
    top = ROW_TOP0 + ROW_STEP * i
    bot = top + PANEL_H
    ydom = [1 - bot / H, 1 - top / H]

    kx0, ky0, kx1, ky1 = KDES[i]
    fig.add_trace(go.Scatter(x=kx0, y=ky0, mode="lines",
                             line=dict(color=BLUE, width=1.6, shape="spline", smoothing=0.8),
                             hoverinfo="skip"), row=r, col=1)
    fig.add_trace(go.Scatter(x=kx1, y=ky1, mode="lines",
                             line=dict(color=BLUE, width=1.6, dash=DOT, shape="spline", smoothing=0.8),
                             hoverinfo="skip"), row=r, col=1)
    allx = kx0 + kx1
    lo, hi = min(allx), max(allx)
    m = 0.05 * (hi - lo)
    fig.update_xaxes(row=r, col=1, domain=[LEFT_PX[0] / W, LEFT_PX[1] / W], range=[lo - m, hi + m],
                     tick0=0, dtick=KDE_X_DTICK[i], tickformat=KDE_X_FMT[i],
                     showgrid=True, gridcolor="white", gridwidth=1, zeroline=False, showline=False,
                     ticks="", tickfont=dict(family=FONT, size=14, color=TXT))
    fig.update_yaxes(row=r, col=1, domain=ydom, range=[0, 1], showticklabels=False,
                     showgrid=False, zeroline=False, showline=False, ticks="")

    t0, t1 = TRACES[i]
    d0 = np.linspace(0, N_DRAWS - 1, len(t0))
    d1 = np.linspace(0, N_DRAWS - 1, len(t1))
    fig.add_trace(go.Scatter(x=d0, y=t0, mode="lines", line=dict(color=BLUE_A, width=1.4),
                             hoverinfo="skip"), row=r, col=2)
    fig.add_trace(go.Scatter(x=d1, y=t1, mode="lines", line=dict(color=BLUE_A, width=1.4, dash=DOT),
                             hoverinfo="skip"), row=r, col=2)
    ally = list(t0) + list(t1)
    ylo, yhi = min(ally), max(ally)
    ym = 0.05 * (yhi - ylo)
    fig.update_xaxes(row=r, col=2, domain=[RIGHT_PX[0] / W, RIGHT_PX[1] / W], range=[0, N_DRAWS - 1],
                     tick0=0, dtick=TRACE_X_TICK_STEP, tickformat="d",
                     showgrid=True, gridcolor="white", gridwidth=1, zeroline=False, showline=False,
                     ticks="", tickfont=dict(family=FONT, size=14, color=TXT))
    fig.update_yaxes(row=r, col=2, domain=ydom, range=[ylo - ym, yhi + ym],
                     tick0=0, dtick=TRACE_Y_DTICK[i], tickformat=TRACE_Y_FMT[i],
                     showgrid=True, gridcolor="white", gridwidth=1, zeroline=False, showline=False,
                     ticks="", tickfont=dict(family=FONT, size=14, color=TXT))

    for dom in (LEFT_PX, RIGHT_PX):
        annotations.append(dict(text=name, xref="paper", yref="paper",
                                x=(dom[0] + dom[1]) / 2 / W, y=1 - (top - 14) / H,
                                xanchor="center", yanchor="middle", showarrow=False,
                                font=dict(family=FONT, size=16, color=TXT)))

fig.update_layout(width=W, height=H, margin=dict(l=0, r=0, t=0, b=0, autoexpand=False),
                  paper_bgcolor="white", plot_bgcolor=BG, showlegend=False,
                  annotations=annotations, font=dict(family=FONT, color=TXT))

fig.write_html("out.html", config={"displayModeBar": False},
               post_script="document.body.style.margin='0';")
